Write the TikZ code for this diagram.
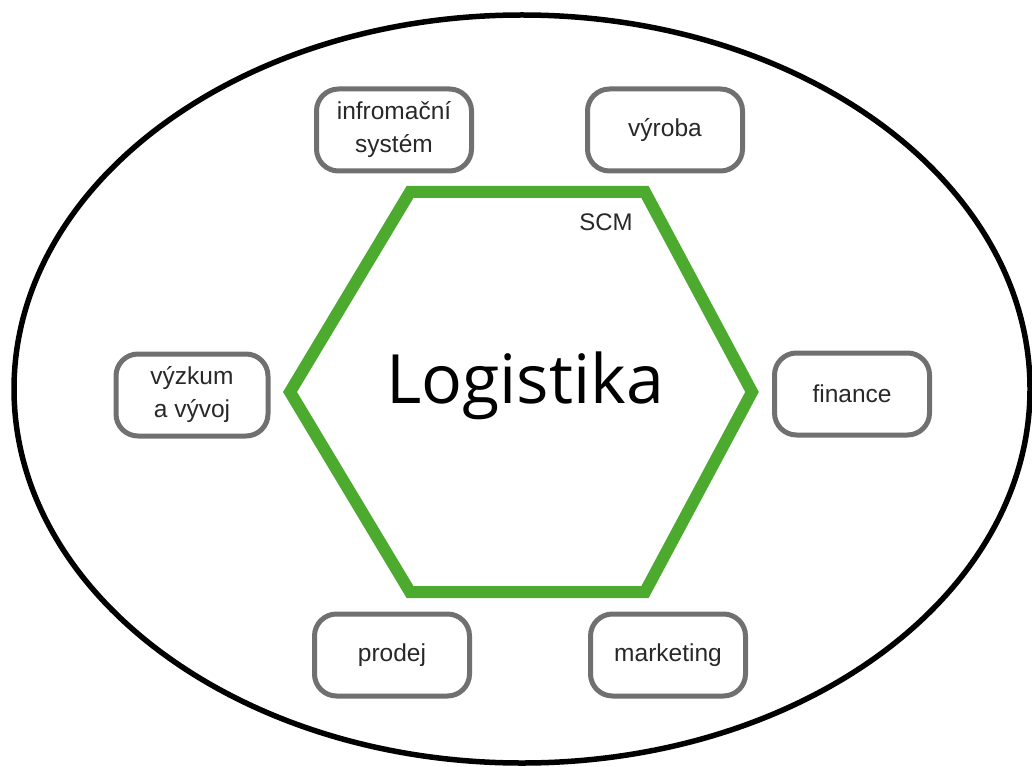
\documentclass[tikz,border=0pt]{standalone}
\usepackage{fontspec}
\usetikzlibrary{shapes.geometric}
\setmainfont{Liberation Sans}
\newfontfamily\logofont{Open Sans}
\definecolor{hexgreen}{RGB}{76,170,46}
\definecolor{boxgray}{RGB}{112,112,112}
\definecolor{txtgray}{RGB}{40,40,40}
\begin{document}
\begin{tikzpicture}[x=1pt,y=-1pt,
  areabox/.style={draw=boxgray, line width=5pt, rounded corners=22pt, fill=white,
    minimum width=155pt, minimum height=82pt, inner sep=0pt, align=center,
    font=\fontsize{24.5}{33}\selectfont, text=txtgray}]
  \useasboundingbox (0,0) rectangle (1032,767);
  % outer ellipse
  \node[draw=black, line width=5.5pt, ellipse, minimum width=1016pt, minimum height=748pt, inner sep=0pt] (env) at (522,389) {};
  % hexagon
  \coordinate (h1) at (410,192);
  \coordinate (h2) at (645,192);
  \coordinate (h3) at (752,392);
  \coordinate (h4) at (645,592);
  \coordinate (h5) at (410,592);
  \coordinate (h6) at (290,392);
  \draw[hexgreen, line width=12pt, line join=miter] (h1) -- (h2) -- (h3) -- (h4) -- (h5) -- (h6) -- cycle;
  \node[font=\logofont\fontsize{68}{76}\selectfont] (logi) at (525,386) {Logistika};
  \node[font=\fontsize{24}{28}\selectfont, text=txtgray] (scm) at (606,222) {SCM};
  % surrounding areas
  \node[areabox] (is) at (394,130) {infromační\\systém};
  \node[areabox] (vyr) at (665,130) {výroba};
  \node[areabox, minimum width=152pt] (vav) at (192,395) {výzkum\\a vývoj};
  \node[areabox] (fin) at (852,394) {finance};
  \node[areabox] (pro) at (392,655) {prodej};
  \node[areabox] (mar) at (668,655) {marketing};
\end{tikzpicture}
\end{document}
